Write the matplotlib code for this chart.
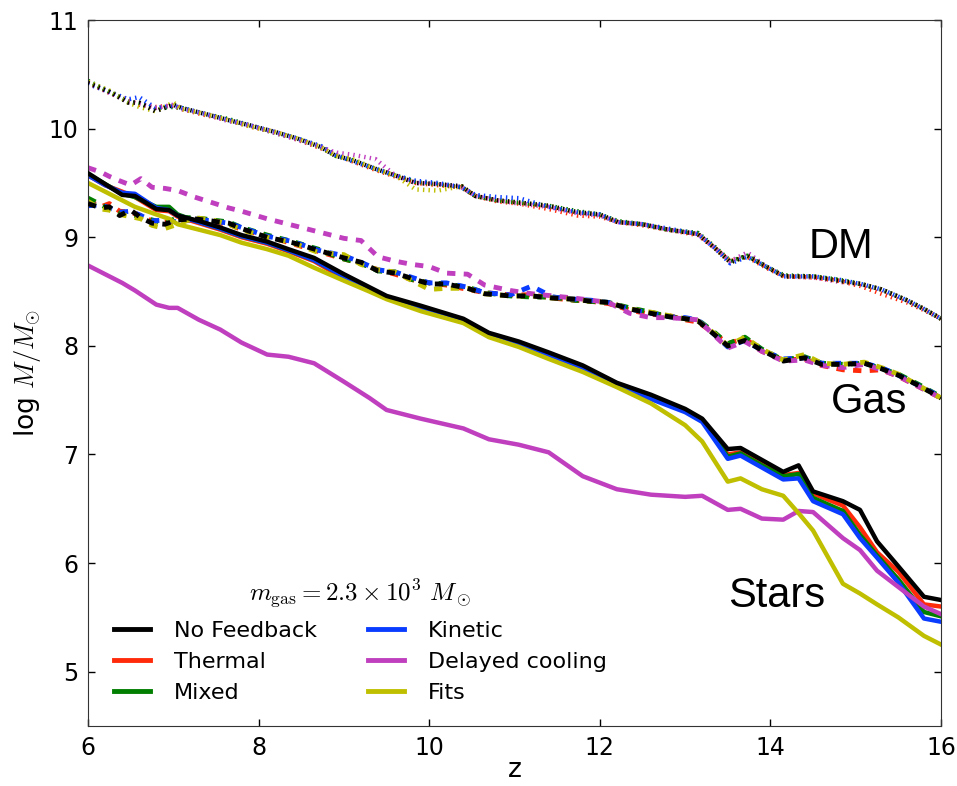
import numpy as np
import matplotlib
matplotlib.use('Agg')
import matplotlib.pyplot as plt

plt.rcParams['mathtext.fontset'] = 'cm'
plt.rcParams['lines.scale_dashes'] = False

# redshift grids
z_stars = [6.0, 6.2, 6.4, 6.55, 6.8, 6.95, 7.05, 7.3, 7.55, 7.8, 8.1, 8.35, 8.65, 9.0, 9.3, 9.5, 9.9,
           10.4, 10.7, 11.05, 11.4, 11.8, 12.2, 12.6, 13.0, 13.2, 13.5, 13.65, 13.9, 14.15, 14.33, 14.5,
           14.85, 15.05, 15.25, 15.5, 15.8, 16.0]
z_gas = [6.0, 6.15, 6.25, 6.37, 6.5, 6.62, 6.75, 6.9, 7.05, 7.25, 7.45, 7.65, 7.8, 8.1, 8.4, 8.7, 9.0,
         9.2, 9.4, 9.6, 9.8, 10.0, 10.2, 10.45, 10.65, 10.95, 11.2, 11.45, 11.7, 11.9, 12.1, 12.35, 12.6,
         12.8, 13.0, 13.15, 13.35, 13.5, 13.7, 13.9, 14.15, 14.4, 14.6, 14.85, 15.1, 15.3, 15.5, 15.75, 16.0]
z_dm = [6.0, 6.25, 6.47, 6.6, 6.79, 7.0, 7.1, 7.4, 7.64, 7.9, 8.19, 8.45, 8.73, 8.9, 9.1, 9.37, 9.6,
        9.84, 10.1, 10.38, 10.54, 10.8, 11.05, 11.4, 11.74, 12.0, 12.21, 12.5, 12.8, 13.15, 13.35, 13.53,
        13.73, 13.95, 14.16, 14.5, 14.8, 15.06, 15.3, 15.6, 15.8, 16.0]

# stellar mass (log Msun)
stars_nofb = [9.59, 9.49, 9.39, 9.38, 9.26, 9.25, 9.20, 9.15, 9.09, 9.02, 8.96, 8.89, 8.81, 8.66, 8.54, 8.46,
              8.37, 8.25, 8.12, 8.04, 7.94, 7.82, 7.66, 7.55, 7.42, 7.33, 7.05, 7.06, 6.95, 6.84, 6.90, 6.66,
              6.57, 6.49, 6.20, 5.97, 5.69, 5.66]
stars_thermal = [9.57, 9.48, 9.42, 9.37, 9.25, 9.24, 9.19, 9.13, 9.07, 9.00, 8.94, 8.87, 8.78, 8.62, 8.52, 8.45,
                 8.35, 8.23, 8.11, 8.02, 7.92, 7.80, 7.64, 7.52, 7.40, 7.32, 7.00, 7.02, 6.92, 6.81, 6.83, 6.64,
                 6.53, 6.33, 6.10, 5.92, 5.62, 5.60]
stars_mixed = [9.58, 9.49, 9.40, 9.37, 9.28, 9.28, 9.21, 9.14, 9.08, 9.01, 8.95, 8.88, 8.79, 8.64, 8.53, 8.45,
               8.36, 8.24, 8.11, 8.03, 7.93, 7.81, 7.64, 7.53, 7.41, 7.32, 6.98, 7.01, 6.90, 6.80, 6.82, 6.60,
               6.48, 6.26, 6.07, 5.85, 5.55, 5.51]
stars_kinetic = [9.57, 9.48, 9.41, 9.40, 9.27, 9.25, 9.20, 9.14, 9.08, 9.01, 8.95, 8.88, 8.79, 8.64, 8.53, 8.45,
                 8.35, 8.24, 8.11, 8.02, 7.92, 7.80, 7.63, 7.51, 7.39, 7.30, 6.96, 6.99, 6.88, 6.77, 6.78, 6.57,
                 6.45, 6.23, 6.05, 5.82, 5.49, 5.46]
stars_delayed = [8.74, 8.66, 8.58, 8.51, 8.38, 8.35, 8.35, 8.24, 8.15, 8.03, 7.92, 7.90, 7.84, 7.67, 7.52, 7.41,
                 7.33, 7.24, 7.14, 7.09, 7.02, 6.80, 6.68, 6.63, 6.61, 6.62, 6.49, 6.50, 6.41, 6.40, 6.48, 6.47,
                 6.23, 6.12, 5.93, 5.78, 5.60, 5.53]
stars_fits = [9.50, 9.42, 9.34, 9.28, 9.21, 9.17, 9.12, 9.07, 9.02, 8.95, 8.89, 8.83, 8.72, 8.60, 8.50, 8.43,
              8.32, 8.21, 8.08, 7.99, 7.88, 7.76, 7.62, 7.47, 7.27, 7.12, 6.75, 6.78, 6.68, 6.62, 6.46, 6.30,
              5.81, 5.72, 5.62, 5.50, 5.33, 5.25]

# gas mass
gas_nofb = [9.31, 9.27, 9.28, 9.20, 9.25, 9.18, 9.13, 9.12, 9.16, 9.17, 9.15, 9.13, 9.08, 9.00, 8.95, 8.88,
            8.81, 8.77, 8.69, 8.67, 8.62, 8.57, 8.57, 8.53, 8.48, 8.46, 8.46, 8.44, 8.43, 8.41, 8.40, 8.34,
            8.30, 8.27, 8.25, 8.23, 8.10, 8.00, 8.05, 7.96, 7.86, 7.89, 7.83, 7.83, 7.84, 7.79, 7.73, 7.63, 7.52]
gas_thermal = [9.34, 9.28, 9.31, 9.24, 9.23, 9.20, 9.15, 9.14, 9.15, 9.16, 9.14, 9.12, 9.07, 9.01, 8.94, 8.87,
               8.80, 8.76, 8.70, 8.66, 8.61, 8.58, 8.56, 8.52, 8.49, 8.47, 8.47, 8.44, 8.42, 8.41, 8.39, 8.33,
               8.29, 8.28, 8.24, 8.22, 8.11, 8.02, 8.07, 7.95, 7.87, 7.88, 7.82, 7.78, 7.77, 7.78, 7.72, 7.62, 7.52]
gas_mixed = [9.36, 9.30, 9.26, 9.22, 9.21, 9.19, 9.16, 9.13, 9.18, 9.18, 9.16, 9.14, 9.09, 9.02, 8.96, 8.89,
             8.80, 8.76, 8.69, 8.68, 8.61, 8.58, 8.57, 8.54, 8.49, 8.46, 8.45, 8.45, 8.42, 8.41, 8.40, 8.35,
             8.31, 8.27, 8.25, 8.24, 8.12, 8.02, 8.08, 7.97, 7.87, 7.90, 7.84, 7.83, 7.84, 7.79, 7.74, 7.64, 7.53]
gas_kinetic = [9.29, 9.30, 9.27, 9.23, 9.24, 9.20, 9.15, 9.16, 9.14, 9.17, 9.15, 9.13, 9.09, 9.01, 8.96, 8.88,
               8.83, 8.77, 8.70, 8.68, 8.63, 8.58, 8.58, 8.54, 8.49, 8.47, 8.55, 8.45, 8.43, 8.42, 8.40, 8.34,
               8.30, 8.27, 8.26, 8.24, 8.10, 7.99, 8.05, 7.96, 7.88, 7.89, 7.84, 7.84, 7.84, 7.80, 7.73, 7.63, 7.53]
gas_delayed = [9.64, 9.60, 9.56, 9.52, 9.48, 9.54, 9.46, 9.45, 9.43, 9.37, 9.32, 9.27, 9.24, 9.17, 9.11, 9.05,
               8.99, 8.97, 8.82, 8.78, 8.75, 8.73, 8.67, 8.66, 8.56, 8.51, 8.48, 8.46, 8.44, 8.42, 8.40, 8.30,
               8.26, 8.26, 8.25, 8.24, 8.09, 7.98, 8.04, 7.95, 7.86, 7.87, 7.82, 7.80, 7.83, 7.78, 7.72, 7.62, 7.52]
gas_fits = [9.33, 9.26, 9.25, 9.21, 9.19, 9.17, 9.11, 9.08, 9.12, 9.18, 9.16, 9.12, 9.07, 9.00, 8.95, 8.86,
            8.84, 8.75, 8.70, 8.68, 8.60, 8.52, 8.53, 8.53, 8.48, 8.46, 8.46, 8.44, 8.43, 8.41, 8.40, 8.34,
            8.31, 8.28, 8.25, 8.23, 8.11, 8.00, 8.08, 7.97, 7.87, 7.92, 7.84, 7.83, 7.85, 7.80, 7.74, 7.63, 7.52]

# dark matter mass
dm_nofb = [10.42, 10.34, 10.24, 10.24, 10.16, 10.22, 10.19, 10.13, 10.08, 10.03, 9.97, 9.91, 9.83, 9.75,
           9.71, 9.63, 9.57, 9.50, 9.49, 9.47, 9.38, 9.34, 9.32, 9.29, 9.23, 9.21, 9.14, 9.12, 9.07, 9.03,
           8.90, 8.77, 8.83, 8.73, 8.64, 8.64, 8.60, 8.57, 8.52, 8.42, 8.34, 8.25]
dm_thermal = [10.43, 10.33, 10.26, 10.22, 10.20, 10.21, 10.18, 10.12, 10.08, 10.02, 9.97, 9.90, 9.82, 9.76,
              9.70, 9.62, 9.56, 9.50, 9.48, 9.46, 9.38, 9.33, 9.31, 9.26, 9.20, 9.19, 9.14, 9.11, 9.07, 9.02,
              8.90, 8.78, 8.82, 8.72, 8.64, 8.63, 8.60, 8.55, 8.48, 8.40, 8.33, 8.25]
dm_mixed = [10.44, 10.34, 10.25, 10.23, 10.19, 10.20, 10.19, 10.13, 10.09, 10.03, 9.96, 9.91, 9.83, 9.75,
            9.71, 9.63, 9.57, 9.51, 9.49, 9.46, 9.38, 9.34, 9.32, 9.29, 9.24, 9.21, 9.15, 9.12, 9.07, 9.04,
            8.91, 8.78, 8.83, 8.73, 8.65, 8.64, 8.61, 8.57, 8.52, 8.42, 8.34, 8.25]
dm_kinetic = [10.41, 10.34, 10.27, 10.29, 10.19, 10.21, 10.19, 10.13, 10.08, 10.03, 9.97, 9.91, 9.84, 9.76,
              9.70, 9.63, 9.57, 9.52, 9.50, 9.46, 9.39, 9.37, 9.36, 9.28, 9.23, 9.21, 9.14, 9.12, 9.08, 9.03,
              8.90, 8.76, 8.82, 8.73, 8.64, 8.64, 8.61, 8.57, 8.52, 8.42, 8.34, 8.25]
dm_delayed = [10.42, 10.33, 10.25, 10.23, 10.19, 10.22, 10.18, 10.13, 10.07, 10.03, 9.96, 9.90, 9.83, 9.78,
              9.76, 9.72, 9.57, 9.50, 9.49, 9.46, 9.38, 9.34, 9.31, 9.28, 9.22, 9.20, 9.14, 9.12, 9.07, 9.03,
              8.90, 8.78, 8.86, 8.73, 8.64, 8.63, 8.59, 8.57, 8.52, 8.42, 8.34, 8.25]
dm_fits = [10.43, 10.35, 10.24, 10.20, 10.16, 10.24, 10.18, 10.13, 10.08, 10.02, 9.97, 9.91, 9.83, 9.75,
           9.72, 9.63, 9.57, 9.44, 9.43, 9.47, 9.38, 9.34, 9.32, 9.29, 9.23, 9.21, 9.14, 9.12, 9.07, 9.03,
           8.90, 8.77, 8.83, 8.73, 8.64, 8.64, 8.60, 8.57, 8.52, 8.42, 8.34, 8.25]

labels = ['No Feedback', 'Thermal', 'Mixed', 'Kinetic', 'Delayed cooling', 'Fits']
colors = ['k', '#ff2a0a', '#007f00', '#0a3cff', '#bf3fbf', '#bfbf00']
stars = [stars_nofb, stars_thermal, stars_mixed, stars_kinetic, stars_delayed, stars_fits]
gas = [gas_nofb, gas_thermal, gas_mixed, gas_kinetic, gas_delayed, gas_fits]
dm = [dm_nofb, dm_thermal, dm_mixed, dm_kinetic, dm_delayed, dm_fits]

fig = plt.figure(figsize=(9.57, 7.86), dpi=100)
ax = fig.add_axes([0.092, 0.0763, 0.8913, 0.8982])

# draw black last so it sits on top
order = [1, 2, 3, 4, 5, 0]
for i in order:
    zo = 3 if i == 0 else 2
    ax.plot(z_dm, dm[i], color=colors[i], ls=(0, (1, 3)), lw=3.2, zorder=zo)
    ax.plot(z_gas, gas[i], color=colors[i], ls=(0, (6, 6)), lw=3.5, zorder=zo)
    ax.plot(z_stars, stars[i], color=colors[i], ls='-', lw=3.2, zorder=zo)

handles = [plt.Line2D([], [], color=c, lw=3.5) for c in colors]
leg = ax.legend(handles, labels, ncol=2, frameon=False, fontsize=16,
                loc='lower left', bbox_to_anchor=(0.02, 0.02), borderaxespad=0,
                handlelength=1.6, handletextpad=1.1, columnspacing=2.3, labelspacing=0.5,
                title=r'$m_{\rm gas} = 2.3\times10^3\ M_\odot$', title_fontsize=18)

ax.text(14.45, 8.81, 'DM', fontsize=30, family='Liberation Sans')
ax.text(14.71, 7.38, 'Gas', fontsize=30, family='Liberation Sans')
ax.text(13.50, 5.60, 'Stars', fontsize=30, family='Liberation Sans')

ax.set_xlim(6, 16)
ax.set_ylim(4.5, 11)
ax.set_xticks([6, 8, 10, 12, 14, 16])
ax.set_yticks([5, 6, 7, 8, 9, 10, 11])
ax.tick_params(direction='in', top=True, right=True, length=5, width=1, labelsize=17, pad=7)
ax.set_xlabel('z', fontsize=19, labelpad=-2)
ax.set_ylabel(r'log $M/M_{\odot}$', fontsize=19, labelpad=4)
for s in ax.spines.values():
    s.set_color('#333333')

fig.savefig('out.png', dpi=100)
